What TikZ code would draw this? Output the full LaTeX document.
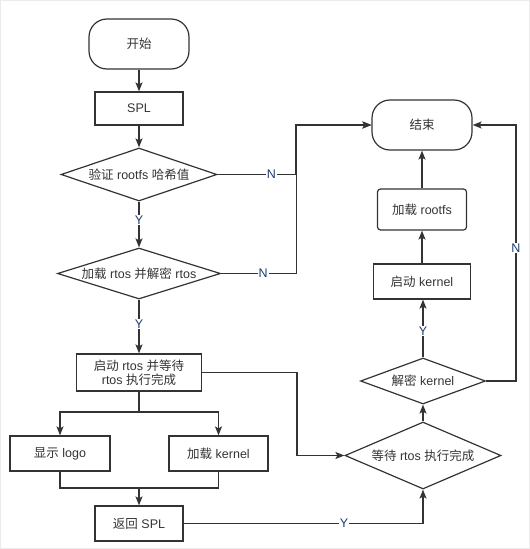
\documentclass[tikz,border=0pt]{standalone}
\usepackage{fontspec}
\setmainfont{Liberation Sans}
\newfontfamily\cjk{Noto Sans CJK SC}
\newcommand\zh[1]{{\cjk #1}}
\usetikzlibrary{shapes.geometric,arrows.meta}
\definecolor{ln}{HTML}{333333}
\definecolor{lb}{HTML}{1C3D6E}
\begin{document}
\begin{tikzpicture}[x=1pt,y=-1pt,
  every node/.style={font=\fontsize{12.5}{15}\selectfont, text=ln},
  base/.style={draw=ln, line width=1.2pt, inner sep=0pt},
  term/.style={base, rounded corners=18pt, minimum width=100pt, minimum height=50pt},
  proc/.style={base, rectangle},
  dec/.style={base, diamond, aspect=3},
  arr/.style={draw=ln, line width=1.2pt, -{Stealth[length=9pt,width=7pt,inset=2pt]}},
  con/.style={draw=ln, line width=1.2pt},
  lbl/.style={fill=white, inner sep=1pt, text=lb, font=\fontsize{12.5}{15}\selectfont}
]
\useasboundingbox (0,0) rectangle (530,549);
\draw[draw=black!8, line width=1pt] (0.5,0.5) rectangle (529.5,548.5);

\node[term] (start) at (139,44) {\zh{开始}};
\node[proc, minimum width=88pt, minimum height=33pt] (spl) at (139,108.5) {SPL};
\node[dec, minimum width=156pt, minimum height=53pt] (verify) at (139,174.5) {\zh{验证} rootfs \zh{哈希值}};
\node[dec, minimum width=163pt, minimum height=51pt] (loadrtos) at (139,273.5) {\zh{加载} rtos \zh{并解密} rtos};
\node[proc, minimum width=125pt, minimum height=37pt, align=center] (startrtos) at (139,372.5) {\zh{启动} rtos \zh{并等待}\\[-1pt]rtos \zh{执行完成}};
\node[proc, minimum width=100pt, minimum height=35pt] (logo) at (60,453.5) {\zh{显示} logo};
\node[proc, minimum width=99pt, minimum height=35pt] (loadk) at (218.5,453.5) {\zh{加载} kernel};
\node[proc, minimum width=88pt, minimum height=35pt] (retspl) at (139,523.5) {\zh{返回} SPL};

\node[term] (end) at (422,125) {\zh{结束}};
\node[proc, rounded corners=3pt, minimum width=89pt, minimum height=41pt] (rootfs) at (422,209.5) {\zh{加载} rootfs};
\node[proc, minimum width=97pt, minimum height=35pt] (startk) at (422,281.5) {\zh{启动} kernel};
\node[dec, minimum width=125pt, minimum height=46pt] (decrypt) at (423,381) {\zh{解密} kernel};
\node[dec, minimum width=156pt, minimum height=67pt] (wait) at (423,455.5) {\zh{等待} rtos \zh{执行完成}};

\draw[arr] (start) -- (spl);
\draw[arr] (spl) -- (verify);
\draw[arr] (verify) -- node[lbl, pos=0.4] {Y} (loadrtos);
\draw[arr] (verify.east) -- node[lbl, pos=0.69] {N} ++(78,0) |- (end.west);
\draw[arr] (loadrtos.east) -- node[lbl, pos=0.56] {N} ++(75,0) |- (end.west);
\draw[arr] (loadrtos) -- node[lbl, pos=0.45] {Y} (startrtos);

\draw[con] (startrtos.south) -- (139,412) coordinate (split);
\draw[arr] (split) -| (logo.north);
\draw[arr] (split) -| (loadk.north);
\coordinate (join) at (139,488);
\draw[con] (logo.south) |- (join);
\draw[con] (loadk.south) |- (join);
\draw[arr] (join) -- (retspl.north);

\draw[arr] (startrtos.east) -- (297,372.5) |- (wait.west);
\draw[arr] (retspl.east) -| node[lbl, pos=0.335] {Y} (wait.south);
\draw[arr] (wait) -- (decrypt);
\draw[arr] (decrypt.north) -- node[lbl, pos=0.46] {Y} (decrypt.north |- startk.south);
\draw[arr] (startk) -- (rootfs);
\draw[arr] (rootfs) -- (end);
\draw[arr] (decrypt.east) -- (516,381) |- node[lbl, pos=0.26] {N} (end.east);
\end{tikzpicture}
\end{document}
